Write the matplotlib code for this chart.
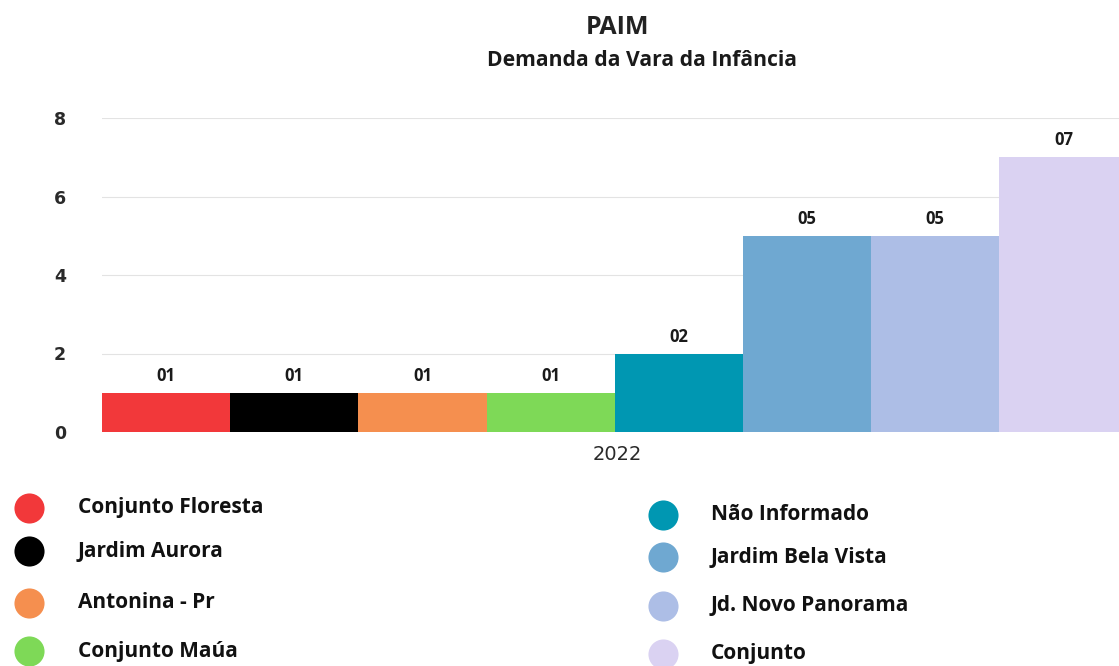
import matplotlib
matplotlib.use("Agg")
import matplotlib.pyplot as plt

# Data
year_label = "2022"
categories = ["Conjunto Floresta", "Jardim Aurora", "Antonina - Pr", "Conjunto Maúa",
              "Não Informado", "Jardim Bela Vista", "Jd. Novo Panorama", "Conjunto"]
values = [1, 1, 1, 1, 2, 5, 5, 7]
colors = ["#F2383A", "#000000", "#F58F4F", "#7ED957",
          "#0097B2", "#6FA8D1", "#ADBEE6", "#DAD2F2"]
y_ticks = [0, 2, 4, 6, 8]

plt.rcParams['font.family'] = ['Open Sans', 'DejaVu Sans']

W, H = 1119, 666
fig = plt.figure(figsize=(W / 100, H / 100), dpi=100)

# plot area: bars start at x=102 px, y=0 at 432 px, y=8 at 118 px
n = len(values)
bar_px = 128.2
left_px = 102
ax = fig.add_axes([left_px / W, (H - 432) / H, bar_px * n / W, (432 - 118) / H])
ax.set_xlim(-0.5, n - 0.5)
ax.set_ylim(0, 8)

for i, (v, c) in enumerate(zip(values, colors)):
    ax.bar(i, v, width=1.0, color=c, linewidth=0, zorder=2)
    ax.text(i, v + 0.2, f"{v:02d}", ha="center", va="bottom",
            fontsize=12, fontweight="bold", color="#1a1a1a", zorder=3)

ax.set_yticks(y_ticks)
ax.set_yticklabels([str(t) for t in y_ticks], fontsize=12.5, fontweight="bold",
                   color="#2a2a2a", family=['DejaVu Sans'])
ax.tick_params(axis="y", length=0, pad=26)
ax.set_xticks([])
ax.grid(axis="y", color="#E3E3E3", linewidth=0.8, zorder=0)
for s in ax.spines.values():
    s.set_visible(False)
ax.axhline(0, color="#F0F0F0", linewidth=1, zorder=1)

fig.text(617 / W, 1 - 455 / H, year_label, ha="center", va="center",
         fontsize=14, color="#2a2a2a", family=['DejaVu Sans'])

# Titles
fig.text(617 / W, 1 - 27 / H, "PAIM", ha="center", va="center",
         fontsize=18, fontweight="bold", color="#222222")
fig.text(642 / W, 1 - 61 / H, "Demanda da Vara da Infância", ha="center", va="center",
         fontsize=15.2, fontweight="bold", color="#1a1a1a")

# Legend in two columns of four
legend_rows_left = [508, 551, 603, 651]
legend_rows_right = [515, 557, 606, 654]
lax = fig.add_axes([0, 0, 1, 1], facecolor="none")
lax.set_xlim(0, W)
lax.set_ylim(H, 0)
lax.axis("off")
for k, (name, c) in enumerate(zip(categories, colors)):
    if k < 4:
        mx, tx, y = 29, 78, legend_rows_left[k]
    else:
        mx, tx, y = 663, 711, legend_rows_right[k - 4]
    lax.scatter([mx], [y], s=470, color=c, linewidths=0)
    lax.text(tx, y, name, ha="left", va="center", fontsize=15,
             fontweight="bold", color="#111111")

fig.savefig("out.png", dpi=100, facecolor="white")
